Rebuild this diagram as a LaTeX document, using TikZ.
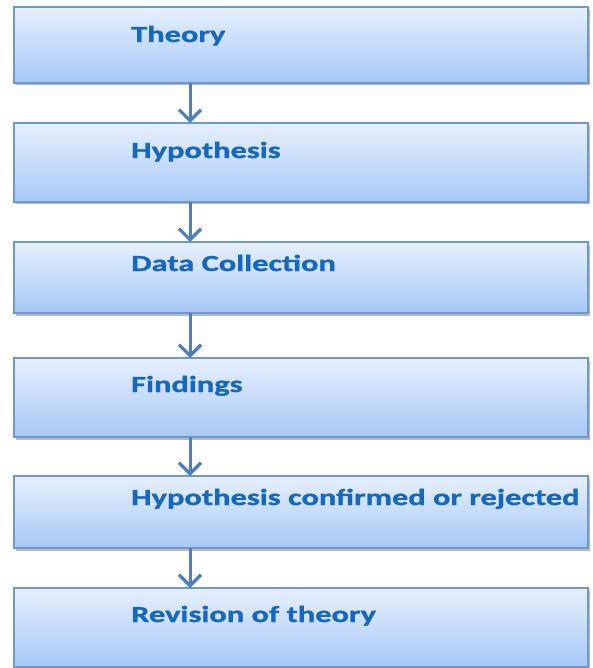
\documentclass[tikz,border=0pt]{standalone}
\usepackage{fontspec}
\newfontfamily\boxfont[FakeStretch=1.41,FakeBold=1.2]{Carlito}
\usetikzlibrary{arrows.meta,shadows}
\definecolor{boxtop}{RGB}{230,240,254}
\definecolor{boxbot}{RGB}{166,200,246}
\definecolor{boxline}{RGB}{110,152,208}
\definecolor{arrowcol}{RGB}{78,128,190}
\definecolor{txtcol}{RGB}{22,104,190}
\tikzset{
  stage/.style={rectangle, draw=boxline, line width=1.5pt, top color=boxtop, bottom color=boxbot,
    minimum width=574pt, inner sep=0pt, outer sep=0pt,
    drop shadow={shadow xshift=2pt, shadow yshift=-2.5pt, opacity=0.45, fill=black!60}},
  stagetext/.style={anchor=base west, inner sep=0pt, text=txtcol, font=\boxfont\bfseries\fontsize{23}{27}\selectfont},
  flow/.style={draw=arrowcol, line width=3pt, -{Straight Barb[length=11pt, width=22pt, line width=3.2pt]}}
}
\begin{document}
\begin{tikzpicture}[x=1pt,y=-1pt]
\useasboundingbox (0,0) rectangle (592,668);
\node[stage, minimum height=76pt] (b1) at (301,45) {};
\node[stage, minimum height=79pt] (b2) at (301,162.5) {};
\node[stage, minimum height=71pt] (b3) at (301,277.5) {};
\node[stage, minimum height=79pt] (b4) at (301,397.5) {};
\node[stage, minimum height=72pt] (b5) at (301,512) {};
\node[stage, minimum height=79pt] (b6) at (301,627.5) {};
\node[stagetext] (t1) at (131,42) {Theory};
\node[stagetext] (t2) at (131,158) {Hypothesis};
\node[stagetext] (t3) at (131,271) {Data Collection};
\node[stagetext] (t4) at (131,392) {Findings};
\node[stagetext] (t5) at (131,505) {Hypothesis confirmed or rejected};
\node[stagetext] (t6) at (131,622) {Revision of theory};
\draw[flow] (b1.south -| 190,0) -- (b2.north -| 190,0);
\draw[flow] (b2.south -| 190,0) -- (b3.north -| 190,0);
\draw[flow] (b3.south -| 190,0) -- (b4.north -| 190,0);
\draw[flow] (b4.south -| 190,0) -- (b5.north -| 190,0);
\draw[flow] (b5.south -| 190,0) -- (b6.north -| 190,0);
\end{tikzpicture}
\end{document}
